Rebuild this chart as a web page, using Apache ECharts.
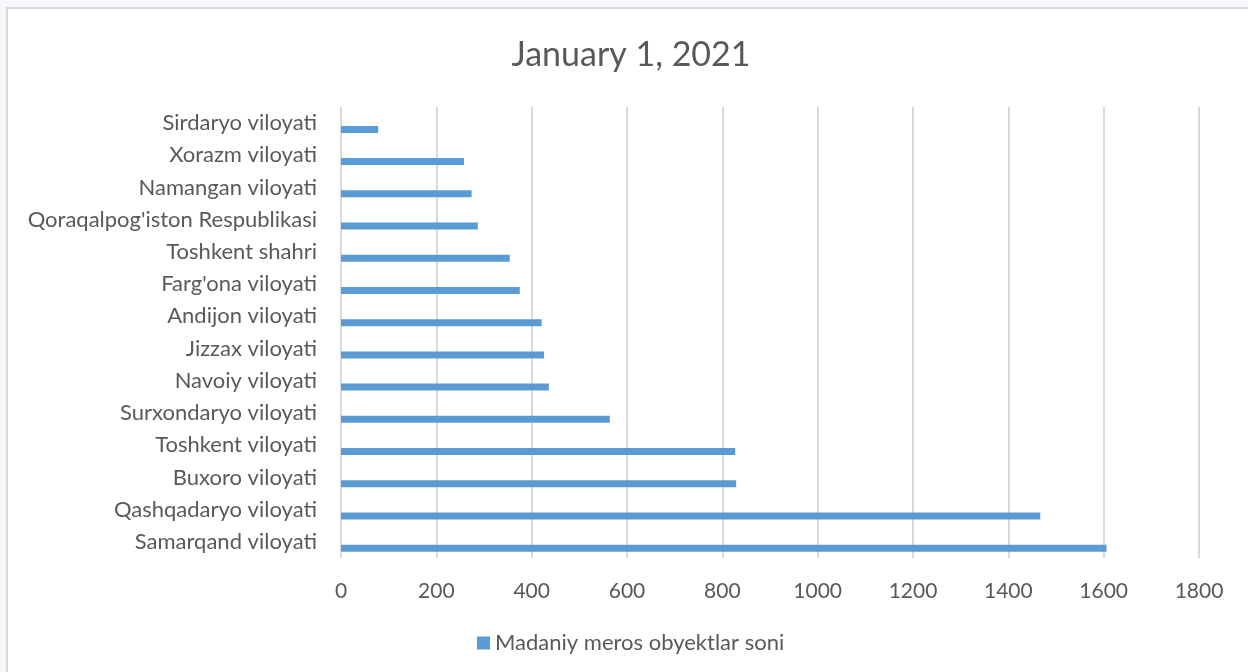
<!DOCTYPE html>
<html>
<head>
<meta charset="utf-8">
<script src="https://cdn.jsdelivr.net/npm/echarts@6/dist/echarts.min.js"></script>
<style>
  html, body { margin: 0; padding: 0; background: #f8f8fc; }
  #chart { width: 1248px; height: 672px; }
</style>
</head>
<body>
<div id="chart"></div>
<script>
// bottom-to-top order, as in the source sheet
const regions = [
  'Samarqand viloyati', 'Qashqadaryo viloyati', 'Buxoro viloyati', 'Toshkent viloyati',
  'Surxondaryo viloyati', 'Navoiy viloyati', 'Jizzax viloyati', 'Andijon viloyati',
  "Farg'ona viloyati", 'Toshkent shahri', "Qoraqalpog'iston Respublikasi",
  'Namangan viloyati', 'Xorazm viloyati', 'Sirdaryo viloyati',
]
const heritageCount = [1606, 1467, 829, 827, 564, 436, 426, 421, 375, 354, 287, 274, 258, 78]
const seriesName = 'Madaniy meros obyektlar soni'
const chartTitle = 'January 1, 2021'

const font = 'Lato, "Open Sans", sans-serif'
const textColor = '#595959'

const chart = echarts.init(document.getElementById('chart'))
chart.setOption({
  backgroundColor: 'transparent',
  animation: false,
  graphic: [{
    type: 'rect', z: -10, silent: true,
    shape: { x: 7, y: 8, width: 1260, height: 690 },
    style: { fill: '#ffffff', stroke: '#d9d9d9', lineWidth: 2 },
  }],
  title: {
    text: chartTitle, left: 626, top: 33, textAlign: 'center',
    textStyle: { fontFamily: font, fontSize: 34, fontWeight: 'normal', color: textColor },
  },
  legend: {
    data: [seriesName], left: 472, top: 627, itemWidth: 13, itemHeight: 13, icon: 'rect',
    textStyle: { fontFamily: font, fontSize: 22, color: textColor, padding: [0, 0, 0, 0] },
  },
  grid: { left: 341, top: 107, width: 858, height: 451, containLabel: false },
  xAxis: {
    type: 'value', min: 0, max: 1800, interval: 200,
    axisLine: { show: false }, axisTick: { show: false },
    splitLine: { lineStyle: { color: '#d9d9d9', width: 2 } },
    axisLabel: { margin: 23, fontFamily: font, fontSize: 21, color: textColor, formatter: (v) => String(v) },
  },
  yAxis: {
    type: 'category', data: regions,
    axisLine: { show: false }, axisTick: { show: false },
    axisLabel: { margin: 24, fontFamily: font, fontSize: 22, color: textColor },
  },
  series: [
    { name: 'spacer', type: 'bar', barWidth: 7, barGap: '80%', data: regions.map(() => 0), itemStyle: { color: 'transparent' }, silent: true },
    { name: seriesName, type: 'bar', barWidth: 7, barGap: '80%', data: heritageCount, itemStyle: { color: '#5b9bd5' } },
  ],
})
</script>
</body>
</html>
